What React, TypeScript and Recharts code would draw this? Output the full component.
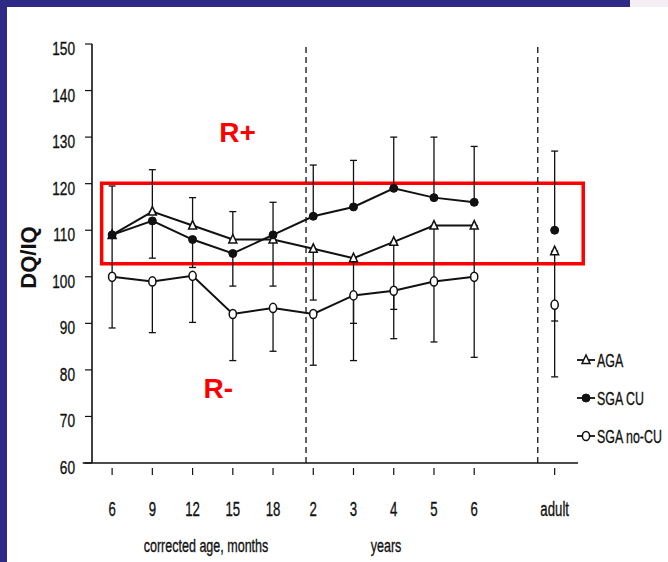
import React from 'react';
import {
  LineChart,
  Line,
  XAxis,
  YAxis,
  ErrorBar,
  ReferenceLine,
  ReferenceArea,
  ReferenceDot,
  Legend,
  Label,
} from 'recharts';

// ---- data ----
const xPositions = [0, 1, 2, 3, 4, 5, 6, 7, 8, 9, 10, 11];
const xTickPositions = [0, 1, 2, 3, 4, 5, 6, 7, 8, 9, 11];
const xTickLabels = ['6', '9', '12', '15', '18', '2', '3', '4', '5', '6', 'adult'];
const yTicks = [60, 70, 80, 90, 100, 110, 120, 130, 140, 150];
const dividerPositions = [4.82, 10.58];

const agaValues = [109, 114, 111, 108, 108, 106, 104, 107.5, 111, 111, null, 105.5];
const agaErrors = [[9, 0], [0, 9], [0, 6], [0, 6], [10, 0], [11, 0], [14, 0], [14.5, 0], [12, 0], [11, 0], null, [15, 0]];
const sgaCuValues = [109, 112, 108, 105, 109, 113, 115, 119, 117, 116, null, 110];
const sgaCuErrors = [[0, 10.5], [8, 0], [6, 0], [7, 0], [0, 7], [0, 11], [0, 10], [0, 11], [0, 13], [0, 12], null, [0, 17]];
const sgaNoCuValues = [100, 99, 100.2, 92, 93.3, 92, 96, 97, 99, 100, null, 94];
const sgaNoCuErrors = [[11, 0], [11, 0], [10, 0], [10, 0], [9.3, 0], [11, 0], [14, 0], [10.3, 0], [13, 0], [17.3, 0], null, [15.5, 0]];

const seriesNames = ['AGA', 'SGA CU', 'SGA no-CU'];

const data = xPositions.map((x, i) => ({
  x,
  aga: agaValues[i],
  agaErr: agaErrors[i],
  sgaCu: sgaCuValues[i],
  sgaCuErr: sgaCuErrors[i],
  sgaNoCu: sgaNoCuValues[i],
  sgaNoCuErr: sgaNoCuErrors[i],
}));

const SANS = "'Liberation Sans', Arial, sans-serif";
const INK = '#111';

// Narrow text: Liberation Sans squeezed horizontally (like a condensed face)
const NarrowText = ({ x, y, size, squeeze, anchor = 'middle', children }: any) => (
  <text
    transform={`translate(${x} ${y}) scale(${squeeze} 1)`}
    textAnchor={anchor}
    fontSize={size}
    fontFamily={SANS}
    fill={INK}
    stroke={INK}
    strokeWidth={0.35}
  >
    {children}
  </text>
);

// ---- markers ----
const Triangle = ({ cx, cy }: any) =>
  cx == null || cy == null ? null : (
    <polygon
      points={`${cx},${cy - 5} ${cx - 4},${cy + 3.5} ${cx + 4},${cy + 3.5}`}
      fill="#fff"
      stroke={INK}
      strokeWidth={1.5}
    />
  );
const FilledDot = ({ cx, cy }: any) =>
  cx == null || cy == null ? null : <circle cx={cx} cy={cy} r={4} fill={INK} stroke={INK} />;
const OpenDot = ({ cx, cy }: any) =>
  cx == null || cy == null ? null : (
    <ellipse cx={cx} cy={cy} rx={3.6} ry={4.6} fill="#fff" stroke={INK} strokeWidth={1.5} />
  );

const markerFor = (name: string, cx: number, cy: number) => {
  if (name === 'AGA') return <Triangle cx={cx} cy={cy} />;
  if (name === 'SGA CU') return <FilledDot cx={cx} cy={cy} />;
  return <OpenDot cx={cx} cy={cy} />;
};

// ---- ticks ----
const XTick = (props: any) => {
  const { x, y, payload } = props;
  const idx = xTickPositions.indexOf(payload.value);
  return (
    <g>
      <line x1={x} x2={x} y1={y + 5} y2={y + 12} stroke={INK} strokeWidth={1.2} />
      <NarrowText x={x} y={y + 53} size={20} squeeze={0.66}>
        {xTickLabels[idx]}
      </NarrowText>
    </g>
  );
};

const YTick = (props: any) => {
  const { x, y, payload } = props;
  return (
    <NarrowText x={x} y={y + 11} size={19} squeeze={0.72} anchor="end">
      {payload.value}
    </NarrowText>
  );
};

const AxisTitle = (props: any) => {
  const { viewBox, value, rel } = props;
  const { x, y, height } = viewBox;
  return (
    <NarrowText x={x + rel} y={y + height - 10} size={19} squeeze={0.66}>
      {value}
    </NarrowText>
  );
};

const renderLegend = (props: any) => {
  const payload = props.payload || [];
  const rowY = [11, 49, 87];
  return (
    <svg width={92} height={100} style={{ overflow: 'visible', display: 'block' }}>
      {payload.map((entry: any, i: number) => (
        <g key={i}>
          <line x1={1} x2={19} y1={rowY[i]} y2={rowY[i]} stroke={INK} strokeWidth={1.8} />
          {markerFor(entry.value, 10, rowY[i])}
          <NarrowText x={21} y={rowY[i] + 6.5} size={18} squeeze={0.69} anchor="start">
            {entry.value}
          </NarrowText>
        </g>
      ))}
    </svg>
  );
};

export default function App() {
  return (
    <div
      style={{
        position: 'absolute',
        left: 0,
        top: 0,
        width: 668,
        height: 562,
        background: '#fff',
        overflow: 'hidden',
      }}
    >
      <div style={{ position: 'absolute', left: 0, top: 0, width: 7, height: 562, background: '#2e2b86' }} />
      <div style={{ position: 'absolute', left: 0, top: 0, width: 630, height: 7, background: '#2e2b86' }} />
      <div style={{ position: 'absolute', left: 630, top: 0, width: 38, height: 7, background: '#f5eff5' }} />
      <div style={{ position: 'absolute', left: 0, top: 0 }}>
        <LineChart
          width={668}
          height={562}
          data={data}
          margin={{ top: 44, right: 90, bottom: 0, left: 0 }}
        >
          <XAxis
            dataKey="x"
            type="number"
            domain={[-0.5, 11.58]}
            ticks={xTickPositions}
            allowDataOverflow
            height={99}
            tickSize={0}
            tickMargin={0}
            tickLine={false}
            axisLine={{ stroke: INK, strokeWidth: 1.6 }}
            tick={<XTick />}
            interval={0}
          >
            <Label value="corrected age, months" content={<AxisTitle rel={114} />} />
            <Label value="years" content={<AxisTitle rel={294} />} />
          </XAxis>
          <YAxis
            type="number"
            domain={[60, 150]}
            ticks={yTicks}
            width={92}
            tickSize={7}
            tickMargin={10}
            tickLine={{ stroke: INK, strokeWidth: 1.2 }}
            axisLine={{ stroke: INK, strokeWidth: 1.6 }}
            tick={<YTick />}
            interval={0}
          >
            <Label
              value="DQ/IQ"
              angle={-90}
              position="insideLeft"
              offset={28}
              dy={4}
              style={{ textAnchor: 'middle' }}
              fontFamily={SANS}
              fontWeight={700}
              fontSize={22}
              fill={INK}
            />
          </YAxis>
          <ReferenceLine
            segment={[{ x: -0.73, y: 60 }, { x: -0.5, y: 60 }]}
            stroke={INK}
            strokeWidth={1.6}
            ifOverflow="visible"
          />
          {dividerPositions.map((p) => (
            <ReferenceLine key={p} x={p} stroke={INK} strokeWidth={1.3} strokeDasharray="6 4" />
          ))}
          <Line
            name={seriesNames[0]}
            dataKey="aga"
            type="linear"
            stroke={INK}
            strokeWidth={2}
            dot={<Triangle />}
            activeDot={false}
            isAnimationActive={false}
          >
            <ErrorBar dataKey="agaErr" direction="y" width={3.5} stroke={INK} strokeWidth={1.3} />
          </Line>
          <Line
            name={seriesNames[1]}
            dataKey="sgaCu"
            type="linear"
            stroke={INK}
            strokeWidth={2}
            dot={<FilledDot />}
            activeDot={false}
            isAnimationActive={false}
          >
            <ErrorBar dataKey="sgaCuErr" direction="y" width={3.5} stroke={INK} strokeWidth={1.3} />
          </Line>
          <Line
            name={seriesNames[2]}
            dataKey="sgaNoCu"
            type="linear"
            stroke={INK}
            strokeWidth={2}
            dot={<OpenDot />}
            activeDot={false}
            isAnimationActive={false}
          >
            <ErrorBar dataKey="sgaNoCuErr" direction="y" width={3.5} stroke={INK} strokeWidth={1.3} />
          </Line>
          <ReferenceArea
            x1={-0.26}
            x2={11.71}
            y1={102.8}
            y2={120.1}
            fill="none"
            fillOpacity={0}
            stroke="#ff0000"
            strokeWidth={3.5}
            ifOverflow="visible"
          />
          <ReferenceDot
            x={3.12}
            y={131.1}
            r={0}
            fill="none"
            stroke="none"
            label={{ value: 'R+', position: 'center', fill: '#ff0000', fontSize: 28, fontWeight: 700, fontFamily: SANS }}
          />
          <ReferenceDot
            x={2.64}
            y={76.2}
            r={0}
            fill="none"
            stroke="none"
            label={{ value: 'R-', position: 'center', fill: '#ff0000', fontSize: 28, fontWeight: 700, fontFamily: SANS }}
          />
          <Legend
            layout="vertical"
            align="center"
            verticalAlign="middle"
            wrapperStyle={{ left: 576, top: 349, width: 92 }}
            content={renderLegend}
          />
        </LineChart>
      </div>
    </div>
  );
}
